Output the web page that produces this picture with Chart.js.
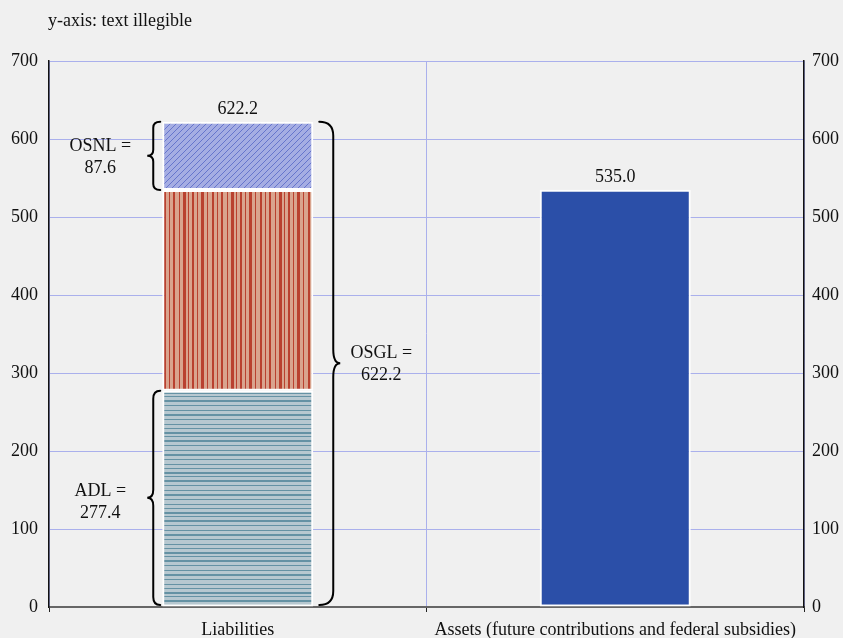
<!DOCTYPE html>
<html>
<head>
<meta charset="utf-8">
<script src="https://cdn.jsdelivr.net/npm/chart.js@4"></script>
<style>
  html, body { margin: 0; padding: 0; background: #f0f0f0; }
  #wrap { width: 843px; height: 638px; }
</style>
</head>
<body>
<div id="wrap"><canvas id="chart" width="843" height="638"></canvas></div>
<script>
const categories = ['Liabilities', 'Assets (future contributions and federal subsidies)'];
const adlValues = [277.4, null];
const midValues = [257.2, null];
const osnlValues = [87.6, null];
const assetValues = [null, 535.0];
const yTicks = [0, 100, 200, 300, 400, 500, 600, 700];

const FONT = '"Liberation Serif", "Times New Roman", serif';
const GRID = '#aab0ec';

// tile with lines at uneven offsets: [offset, width]
function stripes(bg, fg, size, lines, vertical) {
  const c = document.createElement('canvas');
  c.width = vertical ? size : 8;
  c.height = vertical ? 8 : size;
  const g = c.getContext('2d');
  g.fillStyle = bg;
  g.fillRect(0, 0, c.width, c.height);
  g.fillStyle = fg;
  lines.forEach(([o, w]) => {
    if (vertical) g.fillRect(o, 0, w, c.height);
    else g.fillRect(0, o, c.width, w);
  });
  return g.createPattern(c, 'repeat');
}

function diagonal(bg, fg, step) {
  const c = document.createElement('canvas');
  c.width = step; c.height = step;
  const g = c.getContext('2d');
  g.fillStyle = bg;
  g.fillRect(0, 0, step, step);
  g.strokeStyle = fg;
  g.lineWidth = 1;
  g.beginPath();
  g.moveTo(-1, step + 1); g.lineTo(step + 1, -1);
  g.moveTo(-1, 1); g.lineTo(1, -1);
  g.moveTo(step - 1, step + 1); g.lineTo(step + 1, step - 1);
  g.stroke();
  return g.createPattern(c, 'repeat');
}

const ctx0 = document.getElementById('chart').getContext('2d');
const adlFill = stripes('#b7c8d0', '#6592a4', 40,
  [[0, 2], [5, 1], [10, 1], [14, 2], [19, 1], [24, 1], [28, 1], [32, 2], [36, 1]], false);
const midFill = stripes('#d9a48e', '#b9412f', 48,
  [[0, 2], [5, 1], [9, 3], [15, 1], [20, 2], [25, 1], [29, 2], [35, 1], [39, 3], [44, 1]], true);
const osnlFill = diagonal('#a5ade3', '#6675cc', 6);

function brace(g, xEnd, xSpine, xPoint, y1, y2, r) {
  const mid = (y1 + y2) / 2;
  g.beginPath();
  g.moveTo(xEnd, y1);
  g.quadraticCurveTo(xSpine, y1, xSpine, y1 + r);
  g.lineTo(xSpine, mid - r);
  g.quadraticCurveTo(xSpine, mid, xPoint, mid);
  g.quadraticCurveTo(xSpine, mid, xSpine, mid + r);
  g.lineTo(xSpine, y2 - r);
  g.quadraticCurveTo(xSpine, y2, xEnd, y2);
  g.stroke();
}

const annotations = {
  id: 'annotations',
  afterDatasetsDraw(chart) {
    const g = chart.ctx;
    const y = chart.scales.y;
    const bar = chart.getDatasetMeta(0).data[0];
    const asset = chart.getDatasetMeta(3).data[1];
    const left = bar.x - bar.width / 2;
    const right = bar.x + bar.width / 2;
    const adl = adlValues[0], osnl = osnlValues[0];
    const total = adl + midValues[0] + osnl;

    g.save();
    g.strokeStyle = '#000';
    g.lineWidth = 2;
    g.lineCap = 'round';
    const yTop = y.getPixelForValue(total);
    const ySplit = y.getPixelForValue(total - osnl);
    const yAdl = y.getPixelForValue(adl);
    const y0 = y.getPixelForValue(0);
    brace(g, left - 2, left - 9, left - 15, yTop, ySplit, 6);
    brace(g, left - 2, left - 9, left - 15, yAdl, y0 - 2, 8);
    brace(g, right + 6, right + 20, right + 27, yTop, y0 - 2, 14);

    g.fillStyle = '#111';
    g.font = '18px ' + FONT;
    g.textAlign = 'center';
    g.textBaseline = 'middle';
    const two = (x, yc, a, b) => {
      g.fillText(a, x, yc - 11);
      g.fillText(b, x, yc + 11);
    };
    two(left - 62, (yTop + ySplit) / 2 + 1, 'OSNL =', osnl.toFixed(1));
    two(left - 62, (yAdl + y0) / 2 + 3, 'ADL =', adl.toFixed(1));
    two(right + 68, (yTop + y0) / 2, 'OSGL =', total.toFixed(1));

    g.textBaseline = 'bottom';
    g.fillText(total.toFixed(1), bar.x, yTop - 3);
    g.fillText(assetValues[1].toFixed(1), asset.x, y.getPixelForValue(assetValues[1]) - 3);

    g.textAlign = 'left';
    g.textBaseline = 'alphabetic';
    g.font = '18px ' + FONT;
    g.fillText('y-axis: text illegible', 48, 26);
    g.restore();
  }
};

const barStyle = { borderColor: '#ffffff', borderWidth: 2, borderSkipped: false,
  barPercentage: 0.4, categoryPercentage: 1 };

new Chart(ctx0, {
  type: 'bar',
  data: {
    labels: categories,
    datasets: [
      { label: 'ADL', data: adlValues, backgroundColor: adlFill, ...barStyle },
      { label: 'Middle', data: midValues, backgroundColor: midFill, ...barStyle },
      { label: 'OSNL', data: osnlValues, backgroundColor: osnlFill, ...barStyle },
      { label: 'Assets', data: assetValues, backgroundColor: '#2b4fa8', ...barStyle }
    ]
  },
  options: {
    responsive: false,
    animation: false,
    layout: { padding: { top: 61, left: 0, right: 0, bottom: 0 } },
    plugins: { legend: { display: false }, tooltip: { enabled: false } },
    scales: {
      x: {
        stacked: true,
        grid: { color: GRID, tickColor: '#222', tickLength: 5, offset: true },
        border: { color: '#666', width: 2 },
        ticks: { color: '#111', font: { family: FONT, size: 18 }, padding: 7, maxRotation: 0 },
        afterFit(s) { s.height = 31; }
      },
      y: {
        stacked: true,
        min: 0, max: 700,
        afterBuildTicks(s) { s.ticks = yTicks.map(v => ({ value: v })); },
        grid: { color: GRID, lineWidth: 1, drawTicks: false },
        border: { color: '#111', width: 1.5 },
        ticks: { color: '#111', font: { family: FONT, size: 18 }, padding: 11 },
        afterFit(s) { s.width = 49; }
      },
      y2: {
        position: 'right',
        min: 0, max: 700,
        afterBuildTicks(s) { s.ticks = yTicks.map(v => ({ value: v })); },
        grid: { display: false, drawOnChartArea: false, drawTicks: false },
        border: { color: '#111', width: 1.5 },
        ticks: { color: '#111', font: { family: FONT, size: 18 }, padding: 8 },
        afterFit(s) { s.width = 39; }
      }
    }
  },
  plugins: [annotations]
});
</script>
</body>
</html>
